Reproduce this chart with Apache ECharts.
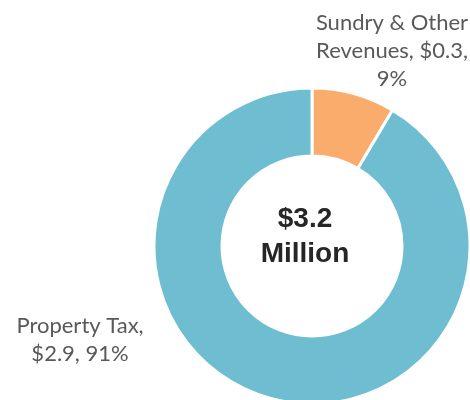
<!DOCTYPE html>
<html>
<head>
<meta charset="utf-8">
<script src="https://cdn.jsdelivr.net/npm/echarts@6/dist/echarts.min.js"></script>
<style>
  html, body { margin: 0; padding: 0; background: #fff; }
  #main { width: 470px; height: 400px; }
</style>
</head>
<body>
<div id="main"></div>
<script>
// revenue split, $ million
var names = ['Sundry & Other\nRevenues', 'Property Tax'];
var values = [0.27, 2.9];
var colors = ['#f9ac6b', '#6fbdd1'];
var totalText = '$3.2\nMillion';

var myChart = echarts.init(document.getElementById('main'));
var total = values[0] + values[1];

var option = {
    animation: false,
    color: colors,
    graphic: [{
        type: 'text',
        x: 305,
        y: 237,
        style: {
            text: totalText,
            font: 'bold 28px "Liberation Sans", Arial, sans-serif',
            fill: '#262626',
            align: 'center',
            verticalAlign: 'middle',
            lineHeight: 35
        }
    }],
    series: [
        {
            name: 'Revenue',
            type: 'pie',
            center: [312, 246],
            radius: [90, 158],
            startAngle: 90,
            clockwise: true,
            itemStyle: {
                borderColor: '#fff',
                borderWidth: 3
            },
            label: {
                show: true,
                color: '#595959',
                fontFamily: 'Lato',
                fontSize: 22,
                lineHeight: 28,
                align: 'center',
                overflow: 'none',
                formatter: function (p) {
                    var v = '$' + p.value.toFixed(1);
                    var pct = Math.round(p.value / total * 100) + '%';
                    if (p.dataIndex === 0) {
                        return 'Sundry & Other\nRevenues, ' + v + ',\n' + pct;
                    }
                    return 'Property Tax,\n' + v + ', ' + pct;
                }
            },
            labelLine: { show: false },
            labelLayout: function (p) {
                if (p.dataIndex === 0) {
                    return { x: 392, y: 51, align: 'center', verticalAlign: 'middle' };
                }
                return { x: 80, y: 340, align: 'center', verticalAlign: 'middle' };
            },
            data: [
                { value: values[0], name: names[0] },
                { value: values[1], name: names[1] }
            ]
        }
    ]
};
myChart.setOption(option);
</script>
</body>
</html>
